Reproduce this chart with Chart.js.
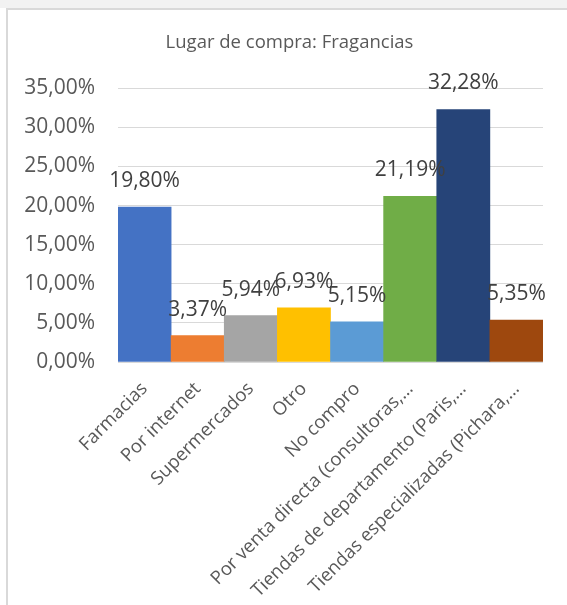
<!DOCTYPE html>
<html>
<head>
<meta charset="utf-8">
<script src="https://cdn.jsdelivr.net/npm/chart.js@4"></script>
<style>
  html, body { margin: 0; padding: 0; background: #ffffff; }
  .page { position: relative; width: 567px; height: 605px; overflow: hidden; }
  .topband { position: absolute; left: 0; top: 0; width: 567px; height: 8px; background: #f2f2f2; }
  .topline { position: absolute; left: 6px; top: 8px; width: 561px; height: 2px; background: #d9d9d9; }
  .leftline { position: absolute; left: 6px; top: 8px; width: 2px; height: 597px; background: #d9d9d9; }
  canvas { position: absolute; left: 0; top: 0; }
</style>
</head>
<body>
<div class="page">
  <div class="topband"></div>
  <div class="topline"></div>
  <div class="leftline"></div>
  <canvas id="chart" width="567" height="605"></canvas>
</div>
<script>
const categories = [
    'Farmacias',
    'Por internet',
    'Supermercados',
    'Otro',
    'No compro',
    'Por venta directa (consultoras,…',
    'Tiendas de departamento (Paris,…',
    'Tiendas especializadas (Pichara,…',
];
const shares = [19.80, 3.37, 5.94, 6.93, 5.15, 21.19, 32.28, 5.35];
const barColors = ['#4472C4', '#ED7D31', '#A5A5A5', '#FFC000', '#5B9BD5', '#70AD47', '#264478', '#9E480E'];
const yTicks = [0, 5, 10, 15, 20, 25, 30, 35];

const FONT = "'Open Sans', sans-serif";

function pct(v) {
    return Number(v).toFixed(2).replace('.', ',') + '%';
}

// Value labels above each bar.
const valueLabels = {
    id: 'valueLabels',
    afterDatasetsDraw(chart) {
        const { ctx } = chart;
        const meta = chart.getDatasetMeta(0);
        ctx.save();
        ctx.font = `21px ${FONT}`;
        ctx.fillStyle = '#404040';
        ctx.textAlign = 'center';
        ctx.textBaseline = 'middle';
        meta.data.forEach((bar, i) => {
            ctx.fillText(pct(shares[i]), bar.x, bar.y - 26);
        });
        ctx.restore();
    },
};

new Chart(document.getElementById('chart'), {
    type: 'bar',
    data: {
        labels: categories,
        datasets: [{
            data: shares,
            backgroundColor: barColors,
            borderWidth: 0,
            categoryPercentage: 1,
            barPercentage: 1,
        }],
    },
    options: {
        responsive: false,
        animation: false,
        // left padding shifts the title centre to match the original frame
        layout: { padding: { left: 12, right: 0, top: 0, bottom: 0 } },
        plugins: {
            legend: { display: false },
            tooltip: { enabled: false },
            title: {
                display: true,
                text: 'Lugar de compra: Fragancias',
                color: '#595959',
                font: { family: FONT, size: 18.5, weight: 'normal' },
                padding: { top: 32, bottom: 34 },
            },
        },
        scales: {
            x: {
                grid: { display: false },
                border: { display: false },
                ticks: {
                    color: '#595959',
                    font: { family: FONT, size: 18.5 },
                    maxRotation: 45,
                    minRotation: 45,
                    autoSkip: false,
                    padding: 8,
                },
                afterFit(scale) { scale.height = 243; },
            },
            y: {
                min: 0,
                max: 35,
                afterBuildTicks(scale) { scale.ticks = yTicks.map((v) => ({ value: v })); },
                grid: { color: '#d9d9d9', lineWidth: 1, drawTicks: false },
                border: { display: false },
                ticks: {
                    color: '#595959',
                    font: { family: FONT, size: 21 },
                    padding: 23,
                    callback: (v) => pct(v),
                },
                afterFit(scale) { scale.width = 106; },
            },
            // empty spacer on the right so the plot ends where the original does
            spacer: {
                type: 'linear',
                position: 'right',
                grid: { display: false },
                border: { display: false },
                ticks: { display: false },
                afterFit(scale) { scale.width = 24; },
            },
        },
    },
    plugins: [valueLabels],
});
</script>
</body>
</html>
